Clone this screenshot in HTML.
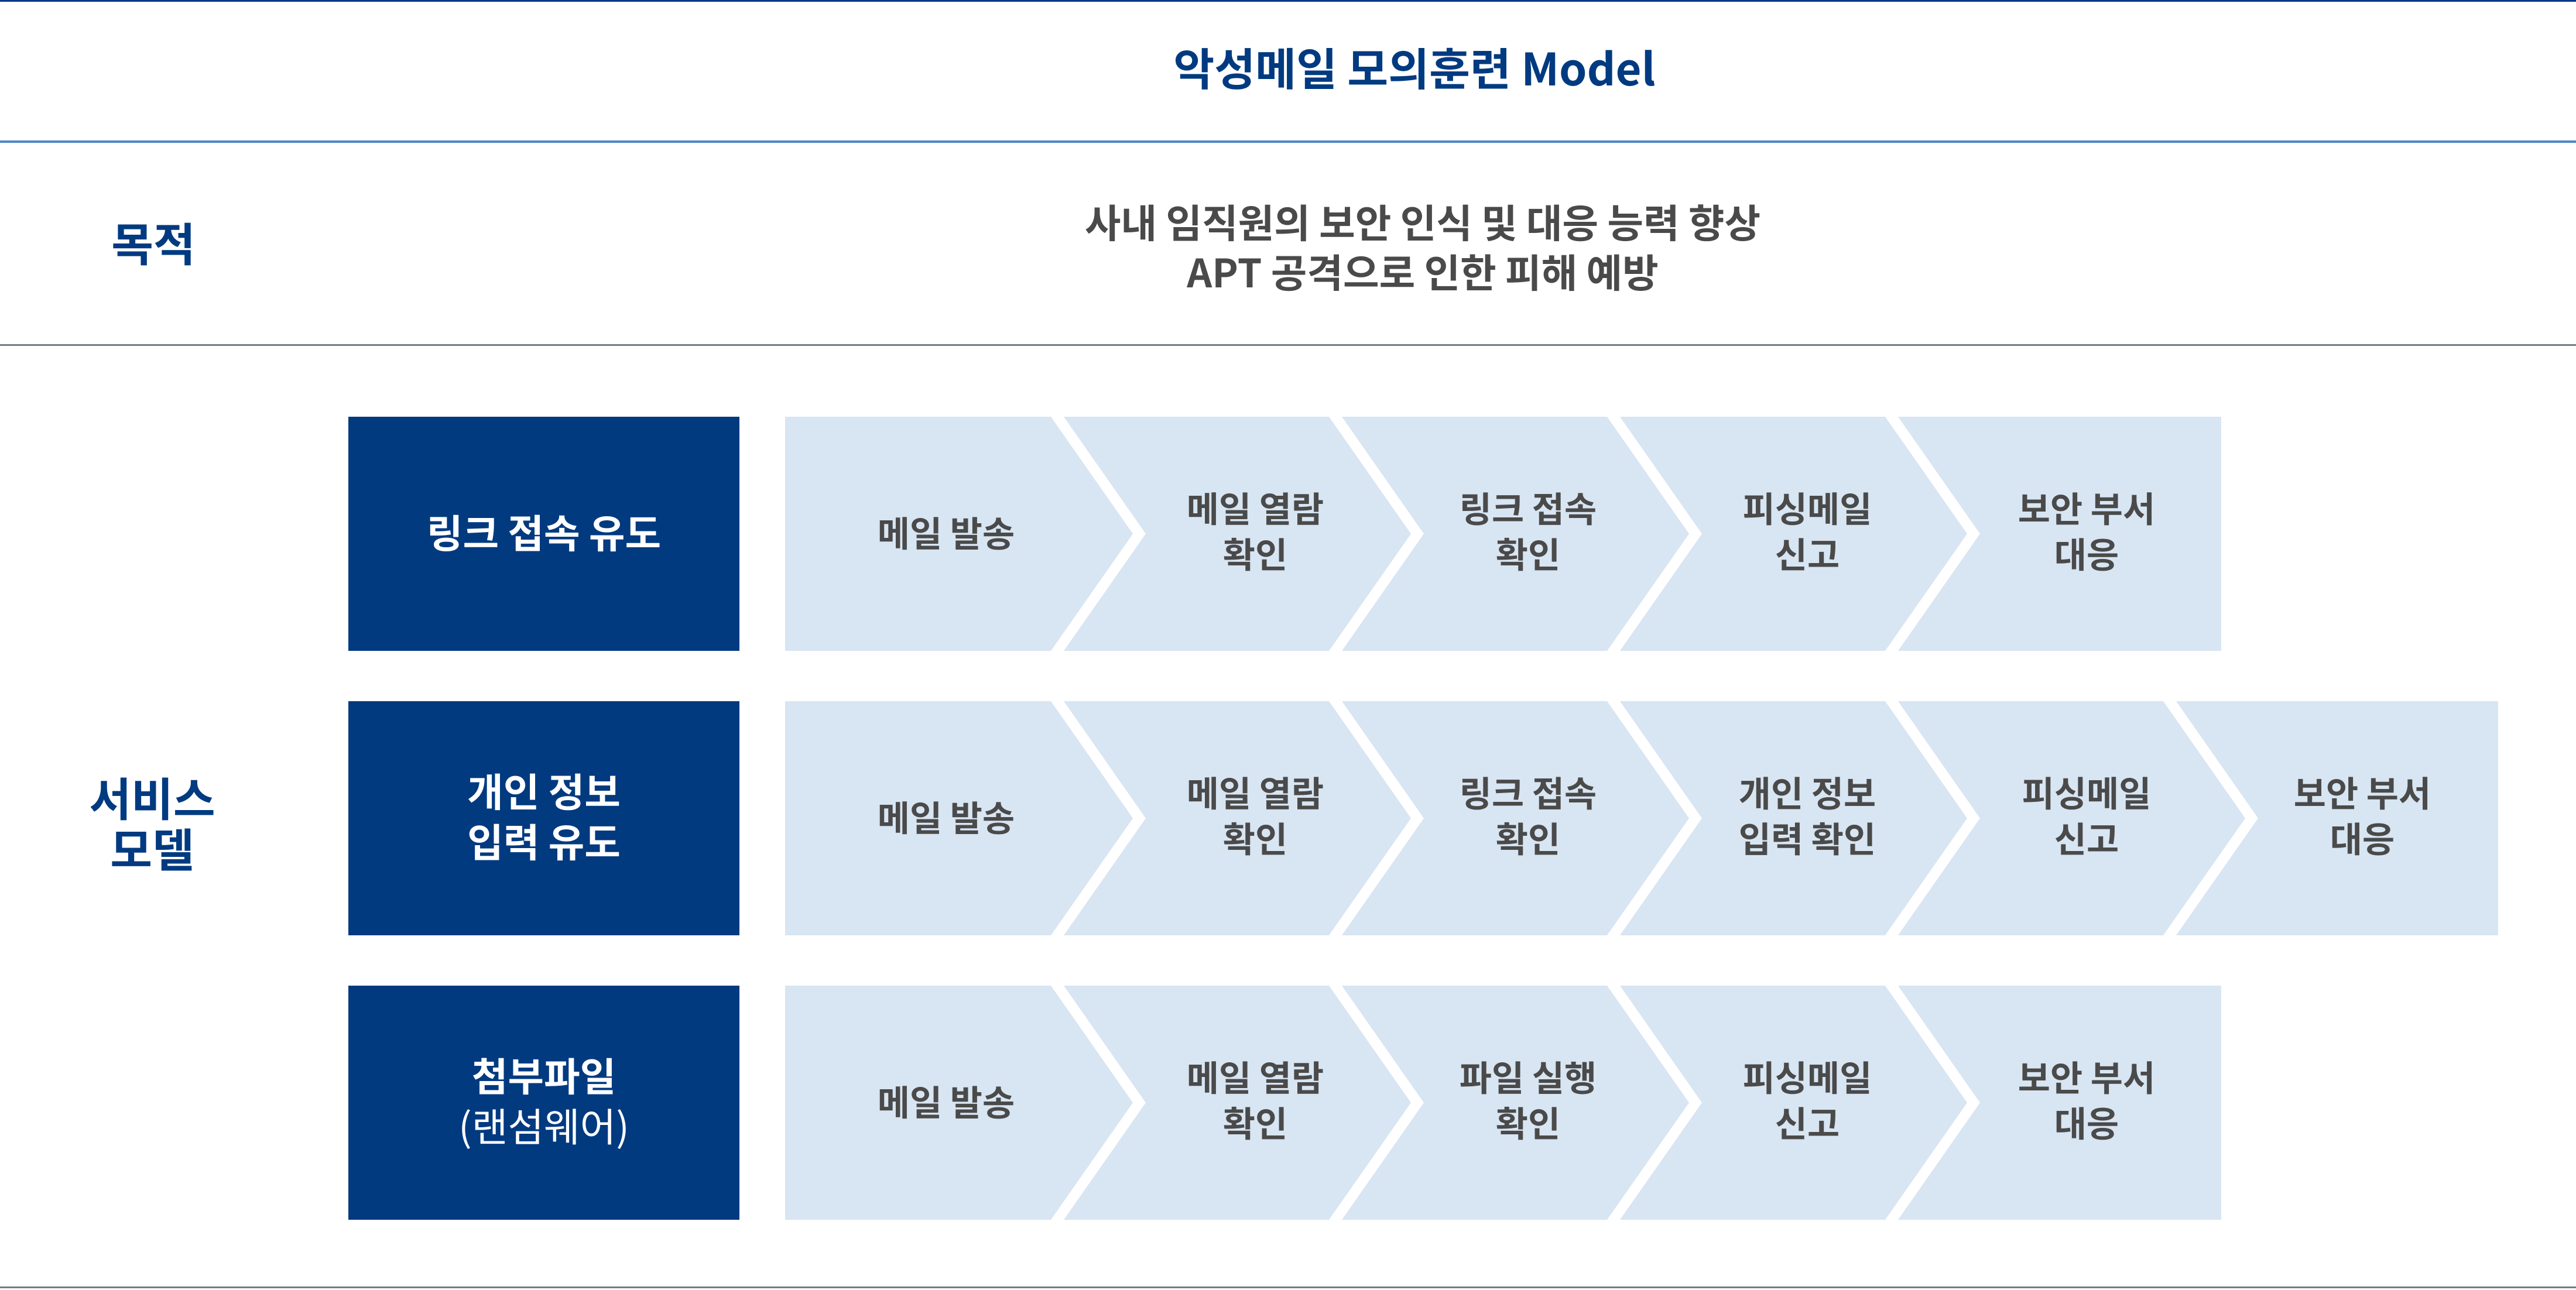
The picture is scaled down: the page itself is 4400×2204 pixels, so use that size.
<!DOCTYPE html>
<html><head><meta charset="utf-8"><style>
html,body{margin:0;padding:0;background:#fff;}
svg{display:block;}
text{font-family:"Noto Sans CJK KR","Liberation Sans",sans-serif;font-weight:bold;}
</style></head><body>
<svg width="4400" height="2204" viewBox="0 0 4400 2204" xmlns="http://www.w3.org/2000/svg">
<rect width="4400" height="2204" fill="#fff"/>
<rect x="0" y="0" width="4400" height="3" fill="#003a8c"/>
<rect x="0" y="240" width="4400" height="4" fill="#4a86c8"/>
<rect x="0" y="588" width="4400" height="3" fill="#6e7f84"/>
<rect x="0" y="2198" width="4400" height="3" fill="#6e7f84"/>

<text x="2416" y="146" font-size="76" fill="#003a80" text-anchor="middle">악성메일 모의훈련 Model</text>
<text x="262" y="446" font-size="78" fill="#003a80" text-anchor="middle">목적</text>
<text x="2430" y="406" font-size="67" fill="#4a4a4a" text-anchor="middle">사내 임직원의 보안 인식 및 대응 능력 향상</text>
<text x="2430" y="491" font-size="67" fill="#4a4a4a" text-anchor="middle">APT 공격으로 인한 피해 예방</text>
<text x="260" y="1394" font-size="78" fill="#003a80" text-anchor="middle">서비스</text>
<text x="260" y="1481" font-size="78" fill="#003a80" text-anchor="middle">모델</text>

<g fill="#023a80">
<rect x="595" y="712" width="668" height="400"/>
<rect x="595" y="1198" width="668" height="400"/>
<rect x="595" y="1684" width="668" height="400"/>
</g>
<g fill="#fff" font-size="67" text-anchor="middle">
<text x="929" y="936">링크 접속 유도</text>
<text x="929" y="1378">개인 정보</text>
<text x="929" y="1464">입력 유도</text>
<text x="929" y="1864">첨부파일</text>
<text x="929" y="1950" style="font-weight:normal">(랜섬웨어)</text>
</g>

<g fill="#d8e5f2">
<polygon points="1341,712 1795,712 1935,912 1795,1112 1341,1112"/>
<polygon points="1817,712 2270,712 2410,912 2270,1112 1817,1112 1957,912"/>
<polygon points="2292,712 2745,712 2885,912 2745,1112 2292,1112 2432,912"/>
<polygon points="2767,712 3220,712 3360,912 3220,1112 2767,1112 2907,912"/>
<polygon points="3242,712 3794,712 3794,1112 3242,1112 3382,912"/>
<polygon points="1341,1198 1795,1198 1935,1398 1795,1598 1341,1598"/>
<polygon points="1817,1198 2270,1198 2410,1398 2270,1598 1817,1598 1957,1398"/>
<polygon points="2292,1198 2745,1198 2885,1398 2745,1598 2292,1598 2432,1398"/>
<polygon points="2767,1198 3220,1198 3360,1398 3220,1598 2767,1598 2907,1398"/>
<polygon points="3242,1198 3695,1198 3835,1398 3695,1598 3242,1598 3382,1398"/>
<polygon points="3717,1198 4267,1198 4267,1598 3717,1598 3857,1398"/>
<polygon points="1341,1684 1795,1684 1935,1884 1795,2084 1341,2084"/>
<polygon points="1817,1684 2270,1684 2410,1884 2270,2084 1817,2084 1957,1884"/>
<polygon points="2292,1684 2745,1684 2885,1884 2745,2084 2292,2084 2432,1884"/>
<polygon points="2767,1684 3220,1684 3360,1884 3220,2084 2767,2084 2907,1884"/>
<polygon points="3242,1684 3794,1684 3794,2084 3242,2084 3382,1884"/>
</g>

<g fill="#4a4a4a" font-size="60" text-anchor="middle">
<text x="1616" y="934">메일 발송</text>
<text x="2144" y="892">메일 열람</text><text x="2144" y="970">확인</text>
<text x="2610" y="892">링크 접속</text><text x="2610" y="970">확인</text>
<text x="3087" y="892">피싱메일</text><text x="3087" y="970">신고</text>
<text x="3564" y="892">보안 부서</text><text x="3564" y="970">대응</text>
<text x="1616" y="1420">메일 발송</text>
<text x="2144" y="1378">메일 열람</text><text x="2144" y="1456">확인</text>
<text x="2610" y="1378">링크 접속</text><text x="2610" y="1456">확인</text>
<text x="3087" y="1378">개인 정보</text><text x="3087" y="1456">입력 확인</text>
<text x="3564" y="1378">피싱메일</text><text x="3564" y="1456">신고</text>
<text x="4035" y="1378">보안 부서</text><text x="4035" y="1456">대응</text>
<text x="1616" y="1906">메일 발송</text>
<text x="2144" y="1864">메일 열람</text><text x="2144" y="1942">확인</text>
<text x="2610" y="1864">파일 실행</text><text x="2610" y="1942">확인</text>
<text x="3087" y="1864">피싱메일</text><text x="3087" y="1942">신고</text>
<text x="3564" y="1864">보안 부서</text><text x="3564" y="1942">대응</text>
</g>
</svg>
</body></html>
